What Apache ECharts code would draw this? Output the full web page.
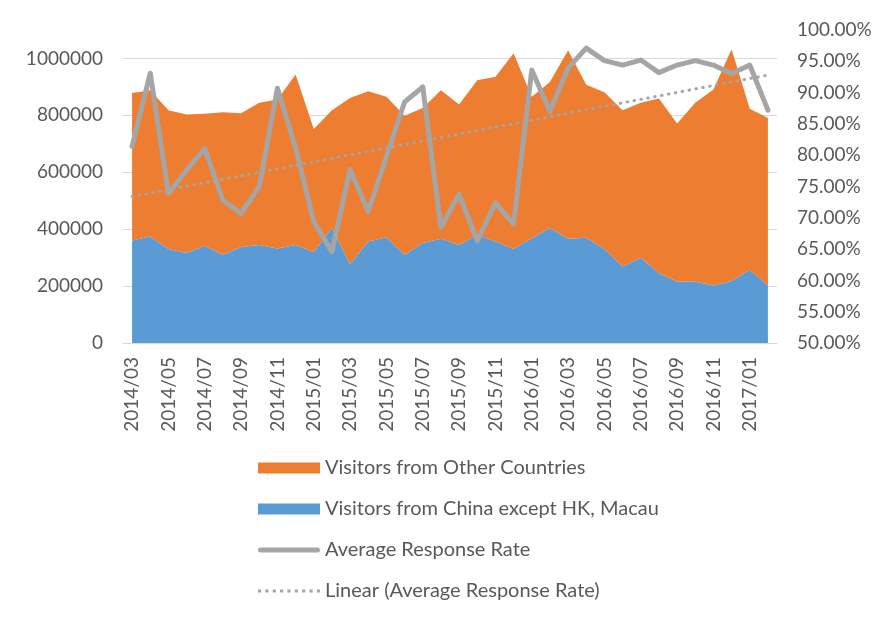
<!DOCTYPE html>
<html>
<head>
<meta charset="utf-8">
<script src="https://cdn.jsdelivr.net/npm/echarts@6/dist/echarts.min.js"></script>
<style>
  html, body { margin: 0; padding: 0; background: #fff; }
  #main { width: 886px; height: 625px; }
</style>
</head>
<body>
<div id="main"></div>
<script>
// months on the x axis
const months = [
  '2014/03', '2014/04', '2014/05', '2014/06', '2014/07', '2014/08', '2014/09', '2014/10', '2014/11', '2014/12',
  '2015/01', '2015/02', '2015/03', '2015/04', '2015/05', '2015/06', '2015/07', '2015/08', '2015/09', '2015/10',
  '2015/11', '2015/12', '2016/01', '2016/02', '2016/03', '2016/04', '2016/05', '2016/06', '2016/07', '2016/08',
  '2016/09', '2016/10', '2016/11', '2016/12', '2017/01', '2017/02'
]

// visitors
const chinaVisitors = [
  360000, 374000, 330000, 316000, 342000, 310000, 337000, 344000, 332000, 344000,
  320000, 404000, 277000, 357000, 372000, 309000, 351000, 366000, 344000, 380000,
  357000, 330000, 368000, 404000, 366000, 370000, 330000, 269000, 300000, 245000,
  216000, 215000, 202000, 218000, 257000, 202000
]
const otherVisitors = [
  519000, 514000, 488000, 487000, 464000, 501000, 470000, 500000, 524000, 600000,
  432000, 414000, 584000, 528000, 493000, 490000, 475000, 522000, 494000, 543000,
  579000, 688000, 497000, 513000, 663000, 538000, 551000, 549000, 544000, 614000,
  555000, 629000, 689000, 814000, 566000, 589000
]

// response rate (right axis)
const responseRate = [
  0.814, 0.931, 0.739, 0.776, 0.811, 0.728, 0.707, 0.750, 0.907, 0.812,
  0.694, 0.646, 0.777, 0.710, 0.798, 0.885, 0.909, 0.685, 0.738, 0.663,
  0.724, 0.690, 0.936, 0.870, 0.939, 0.971, 0.951, 0.944, 0.952, 0.932,
  0.944, 0.951, 0.944, 0.930, 0.944, 0.872
]

// linear trend end points
const trendStart = 0.734
const trendEnd = 0.928

const leftTicks = { min: 0, max: 1100000, interval: 200000 }
const rightTicks = { min: 0.5, max: 1.0, interval: 0.05 }

const FONT = 'Lato'
const TXT = '#595959'
const GRID = '#D9D9D9'

// legend icons for the two lines (solid bar with round ends, row of dots)
const solidIcon = 'path://M2.5,0 L59.5,0 A2.5,2.5 0 0 1 59.5,5 L2.5,5 A2.5,2.5 0 0 1 2.5,0 Z'
let dotPath = ''
for (let i = 0; i < 9; i++) {
  dotPath += 'M' + (i * 7) + ',0 h3 v3 h-3 Z '
}
const dottedIcon = 'path://' + dotPath

var myChart = echarts.init(document.getElementById('main'))

var option = {
  animation: false,
  textStyle: { fontFamily: FONT },
  grid: { left: 123, right: 109, top: 30, bottom: 282, containLabel: false },
  legend: {
    orient: 'vertical',
    left: 253,
    top: 453,
    itemWidth: 62,
    itemHeight: 11,
    itemGap: 21,
    textStyle: { fontFamily: FONT, fontSize: 20, color: TXT, lineHeight: 20 },
    data: [
      { name: 'Visitors from Other Countries', icon: 'rect' },
      { name: 'Visitors from China except HK, Macau', icon: 'rect' },
      { name: 'Average Response Rate', icon: solidIcon, itemStyle: { color: '#A5A5A5', borderWidth: 0 } },
      { name: 'Linear (Average Response Rate)', icon: dottedIcon, itemStyle: { color: '#A5A5A5', borderWidth: 0 } }
    ]
  },
  xAxis: {
    type: 'category',
    data: months,
    boundaryGap: true,
    axisLine: { lineStyle: { color: GRID, width: 1 } },
    axisTick: { show: false },
    axisLabel: {
      interval: 1,
      rotate: 90,
      margin: 14,
      fontFamily: FONT,
      fontSize: 19,
      color: TXT
    }
  },
  yAxis: [
    {
      type: 'value',
      min: leftTicks.min,
      max: leftTicks.max,
      interval: leftTicks.interval,
      axisLine: { show: false },
      axisTick: { show: false },
      axisLabel: {
        showMaxLabel: false,
        margin: 20,
        fontFamily: FONT,
        fontSize: 19,
        color: TXT,
        formatter: (v) => String(v)
      },
      splitLine: { showMaxLine: false, lineStyle: { color: GRID, width: 1 } }
    },
    {
      type: 'value',
      min: rightTicks.min,
      max: rightTicks.max,
      interval: rightTicks.interval,
      axisLine: { show: false },
      axisTick: { show: false },
      splitLine: { show: false },
      axisLabel: {
        margin: 20,
        fontFamily: FONT,
        fontSize: 19,
        color: TXT,
        formatter: (v) => (v * 100).toFixed(2) + '%'
      }
    }
  ],
  series: [
    {
      name: 'Visitors from China except HK, Macau',
      type: 'line',
      stack: 'visitors',
      data: chinaVisitors,
      symbol: 'none',
      itemStyle: { color: '#5B9BD5' },
      lineStyle: { width: 0 },
      areaStyle: { color: '#5B9BD5', opacity: 1 },
      z: 1
    },
    {
      name: 'Visitors from Other Countries',
      type: 'line',
      stack: 'visitors',
      data: otherVisitors,
      symbol: 'none',
      itemStyle: { color: '#ED7D31' },
      lineStyle: { width: 0 },
      areaStyle: { color: '#ED7D31', opacity: 1 },
      z: 1
    },
    {
      name: 'Average Response Rate',
      type: 'line',
      yAxisIndex: 1,
      data: responseRate,
      symbol: 'none',
      itemStyle: { color: '#A5A5A5' },
      lineStyle: { color: '#A5A5A5', width: 5, join: 'round', cap: 'round' },
      z: 3
    },
    {
      name: 'Linear (Average Response Rate)',
      type: 'line',
      yAxisIndex: 1,
      data: [[0, trendStart], [months.length - 1, trendEnd]],
      symbol: 'none',
      itemStyle: { color: '#A5A5A5' },
      lineStyle: { color: '#A5A5A5', width: 3, type: [0.5, 6.5], cap: 'round' },
      z: 4
    }
  ]
}

option && myChart.setOption(option)
</script>
</body>
</html>
